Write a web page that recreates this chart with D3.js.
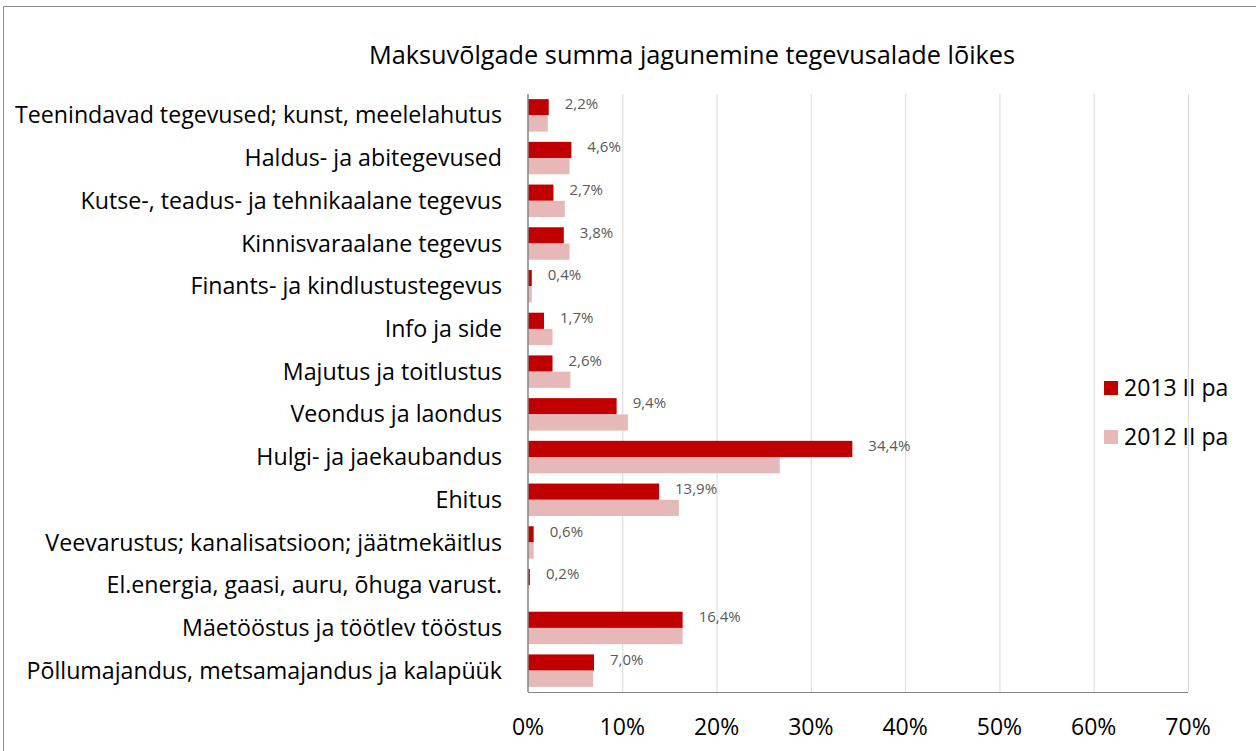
<!DOCTYPE html>
<html>
<head>
<meta charset="utf-8">
<script src="https://cdn.jsdelivr.net/npm/d3@7"></script>
<style>
    body { margin: 0; background: white; }
    svg { display: block; font-family: 'Open Sans', sans-serif; }
</style>
</head>
<body>
<div id="graphContainer"></div>
<script>
const categories = [
    'Teenindavad tegevused; kunst, meelelahutus',
    'Haldus- ja abitegevused',
    'Kutse-, teadus- ja tehnikaalane tegevus',
    'Kinnisvaraalane tegevus',
    'Finants- ja kindlustustegevus',
    'Info ja side',
    'Majutus ja toitlustus',
    'Veondus ja laondus',
    'Hulgi- ja jaekaubandus',
    'Ehitus',
    'Veevarustus; kanalisatsioon; jäätmekäitlus',
    'El.energia, gaasi, auru, õhuga varust.',
    'Mäetööstus ja töötlev tööstus',
    'Põllumajandus, metsamajandus ja kalapüük'
];
const seriesNames = ['2013 II pa', '2012 II pa'];
const values2013 = [2.2, 4.6, 2.7, 3.8, 0.4, 1.7, 2.6, 9.4, 34.4, 13.9, 0.6, 0.2, 16.4, 7.0];
const values2012 = [2.1, 4.4, 3.9, 4.4, 0.4, 2.6, 4.5, 10.6, 26.7, 16.0, 0.6, 0.0, 16.4, 6.9];
const xTicks = [0, 10, 20, 30, 40, 50, 60, 70];
const colors = ['#c00000', '#e6b9b8'];

drawGraph();

function drawGraph() {
    const width = 1256;
    const height = 751;
    const margin = { top: 94, left: 528, right: 68, bottom: 59 };

    const svg = d3.select('#graphContainer')
        .append('svg')
        .attr('width', width)
        .attr('height', height);

    // chart frame, only top and left edges visible
    svg.append('rect')
        .attr('x', 3.5)
        .attr('y', 6.5)
        .attr('width', 1300)
        .attr('height', 800)
        .attr('fill', 'none')
        .attr('stroke', '#8c8c8c')
        .attr('stroke-width', 1);

    svg.append('text')
        .attr('x', 692)
        .attr('y', 64)
        .attr('text-anchor', 'middle')
        .attr('font-size', 25.3)
        .attr('fill', '#000')
        .text('Maksuvõlgade summa jagunemine tegevusalade lõikes');

    const x = d3.scaleLinear()
        .domain([0, 70])
        .range([margin.left, width - margin.right]);

    const y = d3.scaleBand()
        .domain(categories)
        .range([margin.top, height - margin.bottom])
        .paddingInner(0.24)
        .paddingOuter(0.12);

    const ySub = d3.scaleBand()
        .domain(seriesNames)
        .range([0, y.bandwidth()]);

    // gridlines
    svg.append('g')
        .selectAll('line')
        .data(xTicks.slice(1))
        .enter()
        .append('line')
        .attr('x1', d => x(d) + 0.5)
        .attr('x2', d => x(d) + 0.5)
        .attr('y1', margin.top)
        .attr('y2', height - margin.bottom)
        .attr('stroke', '#d9d9d9')
        .attr('stroke-width', 1);

    const rows = [values2013, values2012];
    seriesNames.forEach(function (name, s) {
        svg.append('g')
            .selectAll('rect')
            .data(categories)
            .enter()
            .append('rect')
            .attr('x', x(0))
            .attr('y', d => y(d) + ySub(name))
            .attr('width', (d, i) => x(rows[s][i]) - x(0))
            .attr('height', ySub.bandwidth())
            .attr('fill', colors[s]);
    });

    // data labels for 2013
    svg.append('g')
        .selectAll('text')
        .data(categories)
        .enter()
        .append('text')
        .attr('x', (d, i) => x(values2013[i]) + 16)
        .attr('y', d => y(d) + ySub(seriesNames[0]) + 5)
        .attr('dy', '0.35em')
        .attr('font-size', 15)
        .attr('fill', '#595959')
        .text((d, i) => values2013[i].toFixed(1).replace('.', ',') + '%');

    // axes lines
    svg.append('line')
        .attr('x1', x(0))
        .attr('x2', x(0))
        .attr('y1', margin.top)
        .attr('y2', height - margin.bottom)
        .attr('stroke', '#868686')
        .attr('stroke-width', 1.5);
    svg.append('line')
        .attr('x1', x(0))
        .attr('x2', x(70))
        .attr('y1', height - margin.bottom + 0.5)
        .attr('y2', height - margin.bottom + 0.5)
        .attr('stroke', '#868686')
        .attr('stroke-width', 1);

    // category labels
    svg.append('g')
        .selectAll('text')
        .data(categories)
        .enter()
        .append('text')
        .attr('x', 502)
        .attr('y', d => y(d) + y.bandwidth() / 2)
        .attr('dy', '0.35em')
        .attr('text-anchor', 'end')
        .attr('font-size', 23.2)
        .attr('fill', '#000')
        .text(d => d);

    // x tick labels
    svg.append('g')
        .selectAll('text')
        .data(xTicks)
        .enter()
        .append('text')
        .attr('x', d => x(d))
        .attr('y', 727)
        .attr('dy', '0.35em')
        .attr('text-anchor', 'middle')
        .attr('font-size', 23)
        .attr('fill', '#000')
        .text(d => d + '%');

    // legend
    const legend = svg.append('g')
        .selectAll('g')
        .data(seriesNames)
        .enter()
        .append('g')
        .attr('transform', (d, i) => 'translate(1104,' + (388 + i * 49) + ')');
    legend.append('rect')
        .attr('x', 0)
        .attr('y', -7)
        .attr('width', 14)
        .attr('height', 14)
        .attr('fill', (d, i) => colors[i]);
    legend.append('text')
        .attr('x', 20)
        .attr('y', 0)
        .attr('dy', '0.35em')
        .attr('font-size', 23)
        .attr('fill', '#000')
        .text(d => d);
}
</script>
</body>
</html>
